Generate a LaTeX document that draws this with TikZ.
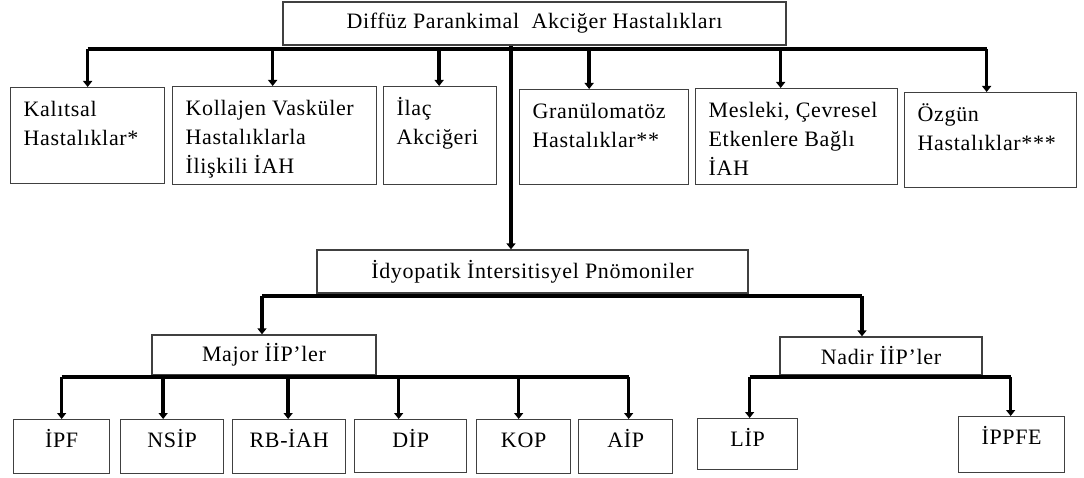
\documentclass[tikz,border=0pt]{standalone}
\usepackage{fontspec}
\setmainfont[LetterSpace=3]{Liberation Serif}
\usetikzlibrary{arrows.meta}
\newcommand\tbx[3]{\parbox[c][#1][t]{#2}{\raggedright\vspace*{9pt}\rule{0pt}{20pt}#3}}
\newcommand\cbx[3]{\parbox[c][#1][t]{#2}{\centering\vspace*{8pt}\rule{0pt}{20pt}#3}}
\begin{document}
\begin{tikzpicture}[x=1pt,y=-1pt,
  box/.style={draw=black!75, line width=1.3pt, inner ysep=0pt, anchor=north west,
    font=\fontsize{22}{29}\selectfont},
  tb/.style={box, inner xsep=13pt},
  cb/.style={box, inner xsep=0pt},
  hb/.style={box, inner sep=0pt, anchor=center},
  bus/.style={line width=3.6pt},
  arr/.style={line width=3.6pt, -{Triangle[length=6pt,width=9pt]}}]
\useasboundingbox (0,0) rectangle (1084,478);
% top
\node[hb, minimum width=503pt, minimum height=43pt] (top) at (534.5,23.5) {Diffüz Parankimal\ \ Akciğer Hastalıkları};
% row 1
\node[tb] (kal) at (10,87) {\tbx{96pt}{128pt}{Kalıtsal\\Hastalıklar*}};
\node[tb] (kol) at (172,86) {\tbx{98pt}{178pt}{Kollajen Vasküler\\Hastalıklarla\\İlişkili İAH}};
\node[tb] (ila) at (383,86) {\tbx{98pt}{87pt}{İlaç\\Akciğeri}};
\node[tb] (gra) at (519,89) {\tbx{95pt}{143pt}{Granülomatöz\\Hastalıklar**}};
\node[tb] (mes) at (695,88) {\tbx{96pt}{176pt}{Mesleki, Çevresel\\Etkenlere Bağlı\\İAH}};
\node[tb] (ozg) at (904,92) {\tbx{95pt}{146pt}{Özgün\\Hastalıklar***}};
% middle
\node[hb, minimum width=431pt, minimum height=43pt] (idy) at (532.5,271.5) {İdyopatik İntersitisyel Pnömoniler};
\node[hb, minimum width=224pt, minimum height=40pt] (maj) at (264,355) {Major İİP’ler};
\node[hb, minimum width=202pt, minimum height=38pt] (nad) at (881,356) {Nadir İİP’ler};
% bottom
\node[cb] (ipf) at (13,419) {\cbx{54pt}{96pt}{İPF}};
\node[cb] (nsi) at (120,419) {\cbx{54pt}{103pt}{NSİP}};
\node[cb] (rbi) at (232,419) {\cbx{54pt}{113pt}{RB-İAH}};
\node[cb] (dip) at (354,419) {\cbx{53pt}{112pt}{DİP}};
\node[cb] (kop) at (476,419) {\cbx{54pt}{94pt}{KOP}};
\node[cb] (aip) at (578,419) {\cbx{54pt}{94pt}{AİP}};
\node[cb] (lip) at (697,418) {\cbx{51pt}{100pt}{LİP}};
\node[cb] (ipp) at (958,416) {\cbx{56pt}{106pt}{İPPFE}};
% bus coordinates
\coordinate (b1) at (0,49);
\coordinate (b2) at (0,296);
\coordinate (b3) at (0,377);
\coordinate (vx) at (511,0);
% top connectors
\draw[bus] (kal.north |- b1) -- ([xshift=-4pt]ozg.north |- b1);
\draw[arr] (kal.north |- b1) -- (kal.north);
\draw[arr] ([xshift=-2pt]kol.north |- b1) -- ([xshift=-2pt]kol.north);
\draw[arr] ([xshift=-1pt]ila.north |- b1) -- ([xshift=-1pt]ila.north);
\draw[arr] ([xshift=-15pt]gra.north |- b1) -- ([xshift=-15pt]gra.north);
\draw[arr] ([xshift=-16pt]mes.north |- b1) -- ([xshift=-16pt]mes.north);
\draw[arr] ([xshift=-4pt]ozg.north |- b1) -- ([xshift=-4pt]ozg.north);
\draw[arr] (vx |- top.south) -- (vx |- idy.north);
% middle connectors
\draw[bus] ([xshift=-2pt]maj.north |- b2) -- ([xshift=-19pt]nad.north |- b2);
\draw[arr] ([xshift=-2pt]maj.north |- b2) -- ([xshift=-2pt]maj.north);
\draw[arr] ([xshift=-19pt]nad.north |- b2) -- ([xshift=-19pt]nad.north);
% bottom connectors
\draw[bus] (ipf.north |- b3) -- ([xshift=3pt]aip.north |- b3);
\draw[arr] (ipf.north |- b3) -- (ipf.north);
\draw[arr] ([xshift=-9pt]nsi.north |- b3) -- ([xshift=-9pt]nsi.north);
\draw[arr] ([xshift=-1pt]rbi.north |- b3) -- ([xshift=-1pt]rbi.north);
\draw[arr] ([xshift=-12pt]dip.north |- b3) -- ([xshift=-12pt]dip.north);
\draw[arr] ([xshift=-5pt]kop.north |- b3) -- ([xshift=-5pt]kop.north);
\draw[arr] ([xshift=3pt]aip.north |- b3) -- ([xshift=3pt]aip.north);
\draw[bus] ([xshift=2pt]lip.north |- b3) -- ([xshift=-1pt]ipp.north |- b3);
\draw[arr] ([xshift=2pt]lip.north |- b3) -- ([xshift=2pt]lip.north);
\draw[arr] ([xshift=-1pt]ipp.north |- b3) -- ([xshift=-1pt]ipp.north);
\end{tikzpicture}
\end{document}
